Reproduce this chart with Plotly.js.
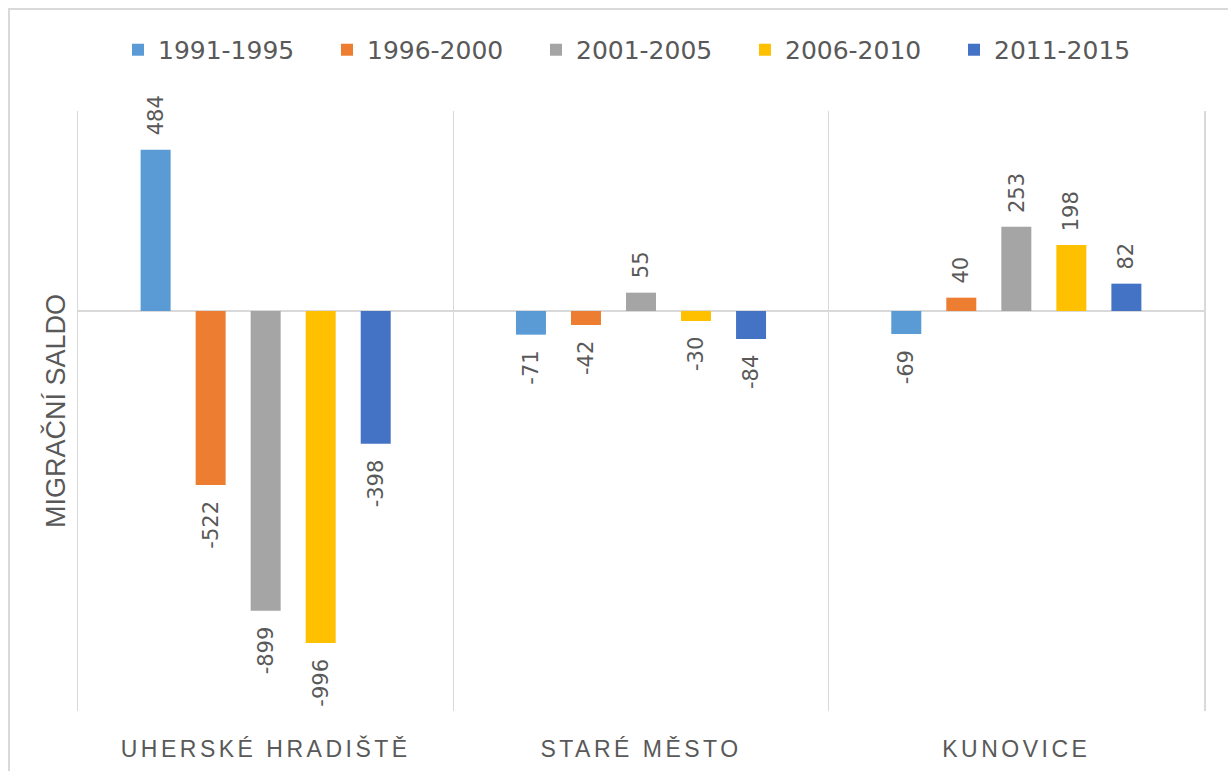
<!DOCTYPE html>
<html>
<head>
<meta charset="utf-8">
<script src="https://cdn.plot.ly/plotly-3.0.1.min.js"></script>
<style>
  html, body { margin: 0; padding: 0; background: #fff; }
  #wrap { position: relative; width: 1228px; height: 771px; overflow: hidden; }
  #chart { width: 1228px; height: 771px; }
  #frame { position: absolute; left: 8px; top: 8px; right: -4px; bottom: -4px;
           border-left: 2px solid #D9D9D9; border-top: 2px solid #D9D9D9; pointer-events: none; }
  .xtick text { letter-spacing: 3.5px; }
</style>
</head>
<body>
<div id="wrap">
  <div id="chart"></div>
  <div id="frame"></div>
</div>
<script>
// ---- data ----
const categories = ["UHERSKÉ HRADIŠTĚ", "STARÉ MĚSTO", "KUNOVICE"];
const seriesNames = ["1991-1995", "1996-2000", "2001-2005", "2006-2010", "2011-2015"];
const s1991_1995 = [484, -71, -69];
const s1996_2000 = [-522, -42, 40];
const s2001_2005 = [-899, 55, 253];
const s2006_2010 = [-996, -30, 198];
const s2011_2015 = [-398, -84, 82];
const seriesValues = [s1991_1995, s1996_2000, s2001_2005, s2006_2010, s2011_2015];
const colors = ["#5B9BD5", "#ED7D31", "#A5A5A5", "#FFC000", "#4472C4"];

const textGray = "#595959";
const gridGray = "#D9D9D9";

const traces = seriesValues.map((vals, i) => ({
  type: "bar",
  name: seriesNames[i],
  x: categories,
  y: vals,
  marker: { color: colors[i] },
  hoverinfo: "name+y"
}));

// data labels as rotated annotations, offset to each bar of the group
const slot = 55; // px between bar centres in a group
const annotations = [];
seriesValues.forEach((vals, i) => {
  vals.forEach((v, j) => {
    annotations.push({
      x: categories[j], y: v, xref: "x", yref: "y",
      text: String(v), showarrow: false, textangle: -90,
      xshift: (i - 2) * slot,
      yanchor: v >= 0 ? "bottom" : "top",
      yshift: v >= 0 ? 12 : -14,
      font: { family: "DejaVu Sans", size: 21, color: textGray }
    });
  });
});

const layout = {
  width: 1228, height: 771,
  margin: { l: 78, r: 24, t: 111, b: 60 },
  paper_bgcolor: "#ffffff", plot_bgcolor: "#ffffff",
  barmode: "group",
  bargap: 0.267,
  bargroupgap: 0.455,
  showlegend: true,
  legend: {
    orientation: "h", x: 0.0355, xanchor: "left", y: 1.1017, yanchor: "middle",
    font: { family: "DejaVu Sans", size: 25, color: textGray },
    entrywidth: 164, entrywidthmode: "pixels",
    traceorder: "normal"
  },
  xaxis: {
    type: "category",
    showgrid: true, gridcolor: gridGray, gridwidth: 1.5,
    tickson: "boundaries", ticks: "", showline: false, zeroline: false,
    ticklabelstandoff: 22,
    tickfont: { family: "Liberation Sans", size: 23, color: textGray },
    fixedrange: true
  },
  yaxis: {
    range: [-1200, 600],
    showticklabels: false, ticks: "", showgrid: false,
    showline: true, mirror: true, linecolor: gridGray, linewidth: 1.5,
    zeroline: true, zerolinecolor: gridGray, zerolinewidth: 1.5,
    title: { text: "MIGRAČNÍ SALDO", standoff: 3,
             font: { family: "Liberation Sans", size: 27, color: textGray } },
    fixedrange: true
  },
  annotations: annotations,
  font: { family: "Liberation Sans", color: textGray }
};

Plotly.newPlot("chart", traces, layout, { displayModeBar: false, staticPlot: true });
</script>
</body>
</html>
